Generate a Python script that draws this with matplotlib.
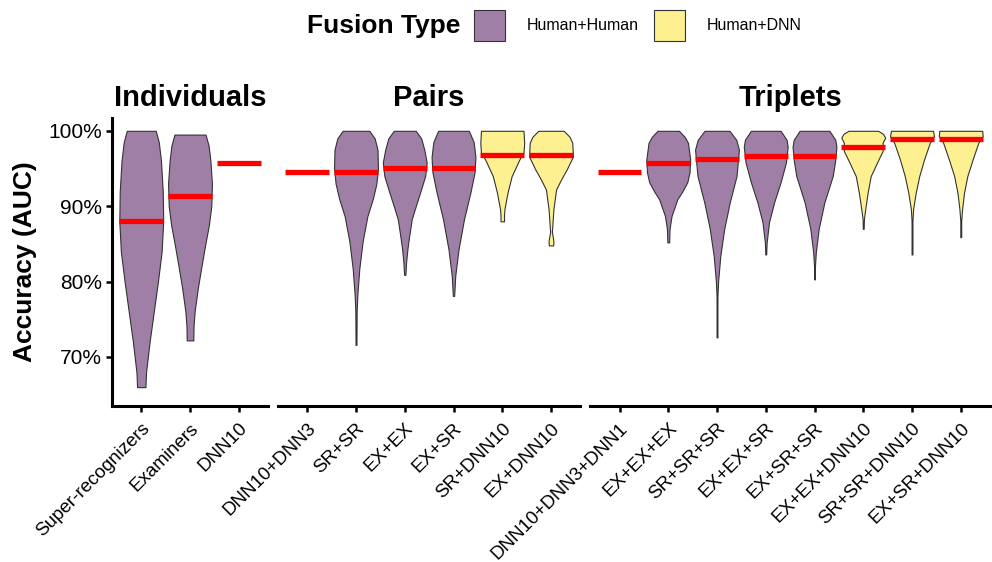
import numpy as np
import matplotlib.pyplot as plt
from matplotlib.patches import Rectangle

plt.rcParams['font.family'] = ['Liberation Sans', 'DejaVu Sans']

# facet titles and category labels
panel_titles = ["Individuals", "Pairs", "Triplets"]
ind_labels = ["Super-recognizers", "Examiners", "DNN10"]
pair_labels = ["DNN10+DNN3", "SR+SR", "EX+EX", "EX+SR", "SR+DNN10", "EX+DNN10"]
trip_labels = ["DNN10+DNN3+DNN1", "EX+EX+EX", "SR+SR+SR", "EX+EX+SR", "EX+SR+SR",
               "EX+EX+DNN10", "SR+SR+DNN10", "EX+SR+DNN10"]

# fusion type per category (None = DNN only, no distribution)
ind_types = ["Human+Human", "Human+Human", None]
pair_types = [None, "Human+Human", "Human+Human", "Human+Human", "Human+DNN", "Human+DNN"]
trip_types = [None, "Human+Human", "Human+Human", "Human+Human", "Human+Human",
              "Human+DNN", "Human+DNN", "Human+DNN"]

# median accuracy (%)
ind_medians = [88.0, 91.3, 95.7]
pair_medians = [94.6, 94.6, 95.1, 95.1, 96.8, 96.8]
trip_medians = [94.6, 95.7, 96.2, 96.7, 96.7, 97.9, 98.9, 98.9]

# violin outlines: accuracy levels and relative density width (1 = widest)
ind_levels = [
    [100, 98.5, 96, 92, 88, 84, 80, 76, 72, 68, 66],
    [99.5, 98, 96, 93, 90, 87.5, 85, 82, 79, 76, 74, 72.2],
    None,
]
ind_widths = [
    [0.66, 0.8, 0.9, 0.98, 1.0, 0.93, 0.76, 0.57, 0.38, 0.22, 0.19],
    [0.71, 0.85, 0.93, 1.0, 0.97, 0.86, 0.7, 0.52, 0.35, 0.21, 0.16, 0.15],
    None,
]
pair_levels = [
    None,
    [100, 99, 97.5, 95, 93, 91, 88.7, 85.3, 81.7, 78.2, 76, 71.6],
    [100, 99, 97.5, 95.8, 94, 92, 90, 88.3, 86, 84.3, 82.5, 80.9],
    [100, 98.5, 96.5, 94.5, 91.8, 88.3, 84.3, 80.8, 78.1],
    [100, 98.4, 97.1, 96.2, 94, 91.8, 89.6, 88.8, 88],
    [100, 99.2, 98.4, 96.6, 94.9, 93.5, 92.2, 89.6, 86.6, 85.6, 85.3, 84.8],
]
pair_widths = [
    None,
    [0.61, 0.85, 0.98, 1.0, 0.93, 0.77, 0.52, 0.3, 0.15, 0.06, 0.03, 0.02],
    [0.5, 0.75, 0.89, 1.0, 0.93, 0.72, 0.5, 0.32, 0.2, 0.12, 0.06, 0.03],
    [0.7, 0.92, 1.0, 0.96, 0.77, 0.48, 0.23, 0.08, 0.03],
    [0.97, 1.0, 0.97, 0.78, 0.43, 0.24, 0.1, 0.08, 0.08],
    [0.58, 0.85, 0.97, 1.0, 0.72, 0.45, 0.23, 0.11, 0.04, 0.1, 0.11, 0.1],
]
trip_levels = [
    None,
    [100, 99.2, 98.4, 96.2, 94.5, 93.2, 92, 90.9, 88.7, 87, 85.2],
    [100, 98.8, 97.5, 94, 90.5, 87, 83.4, 80, 78, 72.6],
    [100, 98.8, 97.9, 95.8, 93.2, 90.5, 87.9, 85.2, 83.6],
    [100, 98.8, 97.9, 96, 94, 90.5, 87, 83.9, 82, 80.3],
    [100, 99.6, 99.1, 98.4, 97.9, 97.3, 96.6, 94, 91.8, 89.6, 88.3, 87],
    [100, 99.3, 98.4, 96.2, 94, 91.8, 89.6, 88, 83.6],
    [100, 99.3, 98.4, 96.2, 94, 91.8, 89.6, 88, 85.9],
]
trip_widths = [
    None,
    [0.49, 0.75, 0.9, 1.0, 0.97, 0.87, 0.65, 0.41, 0.15, 0.06, 0.04],
    [0.57, 0.88, 1.0, 0.89, 0.58, 0.33, 0.15, 0.05, 0.02, 0.02],
    [0.68, 0.95, 1.0, 0.92, 0.68, 0.38, 0.15, 0.04, 0.02],
    [0.68, 0.95, 1.0, 0.94, 0.83, 0.45, 0.19, 0.06, 0.02, 0.02],
    [0.68, 0.9, 1.0, 0.88, 0.9, 0.88, 0.76, 0.34, 0.2, 0.09, 0.03, 0.02],
    [0.96, 1.0, 0.81, 0.55, 0.33, 0.17, 0.05, 0.02, 0.02],
    [0.98, 1.0, 0.8, 0.54, 0.3, 0.15, 0.06, 0.02, 0.02],
]

fill_colors = {"Human+Human": "#A07FA7", "Human+DNN": "#FDF091"}
yticks = [70, 80, 90, 100]

W, H = 992, 562
fig = plt.figure(figsize=(W / 100, H / 100), dpi=100)

unit = 48.75
gap = 10
top_px, bot_px = 118, 406
panels = [
    (ind_labels, ind_types, ind_medians, ind_levels, ind_widths),
    (pair_labels, pair_types, pair_medians, pair_levels, pair_widths),
    (trip_labels, trip_types, trip_medians, trip_levels, trip_widths),
]

left = 112
axes = []
for k, (labels, types, meds, levels, widths) in enumerate(panels):
    n = len(labels)
    wpx = (n + 0.2) * unit
    ax = fig.add_axes([left / W, 1 - bot_px / H, wpx / W, (bot_px - top_px) / H])
    left += wpx + gap
    axes.append(ax)

    xs = np.arange(1, n + 1)
    for x, t, m, lv, wd in zip(xs, types, meds, levels, widths):
        if lv is not None:
            half = np.asarray(wd) * 0.45
            ax.fill_betweenx(lv, x - half, x + half, facecolor=fill_colors[t],
                             edgecolor="#333333", linewidth=0.8, zorder=2)
        ax.hlines(m, x - 0.45, x + 0.45, color="#FF0000", linewidth=3.8, zorder=3)

    ax.set_xlim(0.4, n + 0.6)
    ax.set_ylim(63.5, 101.7)
    ax.set_xticks(xs)
    ax.set_xticklabels(labels, rotation=45, ha="right", va="top",
                       rotation_mode="anchor", fontsize=13.5)
    ax.set_title(panel_titles[k], fontsize=21, fontweight="bold", pad=9)
    for s in ["top", "right"]:
        ax.spines[s].set_visible(False)
    ax.spines["bottom"].set_linewidth(2.2)
    ax.tick_params(axis="x", length=4, width=1.8, pad=6)
    if k == 0:
        ax.spines["left"].set_linewidth(2.2)
        ax.set_yticks(yticks)
        ax.set_yticklabels([f"{v}%" for v in yticks], fontsize=15)
        ax.tick_params(axis="y", length=4, width=1.8, pad=3)
        ax.set_ylabel("Accuracy (AUC)", fontsize=19, fontweight="bold", labelpad=8)
    else:
        ax.spines["left"].set_visible(False)
        ax.set_yticks([])

# legend across the top
fig.text(307 / W, 1 - 26 / H, "Fusion Type", fontsize=19, fontweight="bold",
         ha="left", va="center")
for x0, name in [(474, "Human+Human"), (654, "Human+DNN")]:
    fig.add_artist(Rectangle((x0 / W, 1 - 41 / H), 31 / W, 31 / H,
                             transform=fig.transFigure, facecolor=fill_colors[name],
                             edgecolor="#333333", linewidth=0.8))
    fig.text((x0 + 53) / W, 1 - 26 / H, name, fontsize=11.5, ha="left", va="center")

fig.savefig("out.png", dpi=100)
